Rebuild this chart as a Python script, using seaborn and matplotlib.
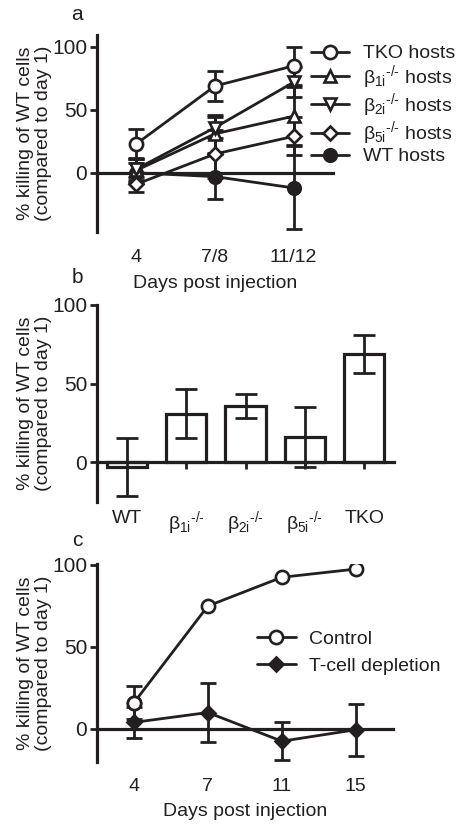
import matplotlib
matplotlib.use('Agg')
import matplotlib.pyplot as plt
import seaborn as sns
import numpy as np

# panel a: killing over time in different hosts
days_a = ['4', '7/8', '11/12']
tko_a = [23, 69, 85]
tko_a_err = [12, 12, 15]
b1i_a = [2, 31, 45]
b1i_a_err = [9, 15, 23]
b2i_a = [3, 36, 72]
b2i_a_err = [9, 8, 12]
b5i_a = [-9, 15, 29]
b5i_a_err = [6, 19, 15]
wt_a = [0, -3, -12]
wt_a_err = [8, 18, 33]

# panel b: day 7/8 per host
groups_b = ['WT', r'$\beta_{1i}$$^{\text{-/-}}$', r'$\beta_{2i}$$^{\text{-/-}}$',
            r'$\beta_{5i}$$^{\text{-/-}}$', 'TKO']
vals_b = [-3, 31, 36, 16, 69]
err_b = [18.5, 15.5, 7.5, 19, 12]

# panel c: T-cell depletion
days_c = ['4', '7', '11', '15']
control_c = [16, 75, 92.5, 97.5]
control_c_err = [10, 0, 0, 0]
tdep_c = [4, 10, -7.5, -0.5]
tdep_c_err = [9.6, 18, 11.5, 15.8]

sns.set_style('white')
plt.rcParams['font.family'] = ['Liberation Sans', 'DejaVu Sans']
plt.rcParams['mathtext.fontset'] = 'custom'
plt.rcParams['mathtext.rm'] = 'Liberation Sans'
plt.rcParams['mathtext.it'] = 'Liberation Sans'
plt.rcParams['mathtext.bf'] = 'Liberation Sans:bold'

INK = '#231f20'
FS = 14
LW = 2.0
YLAB = '% killing of WT cells\n(compared to day 1)'

W, H = 460, 827
fig = plt.figure(figsize=(W / 100, H / 100), dpi=100)


def box(left, top, right, bottom):
    # pixel box -> figure fraction
    return [left / W, 1 - bottom / H, (right - left) / W, (bottom - top) / H]


def style_axis(ax, ylim, xlim, xpad, xtick_len=0):
    ax.set_ylim(*ylim)
    ax.set_xlim(*xlim)
    ax.set_yticks([0, 50, 100])
    for s in ['top', 'right']:
        ax.spines[s].set_visible(False)
    ax.spines['left'].set_linewidth(2.3)
    ax.spines['left'].set_color(INK)
    ax.spines['bottom'].set_position(('data', 0))
    ax.spines['bottom'].set_linewidth(2.3)
    ax.spines['bottom'].set_color(INK)
    ax.tick_params(axis='y', direction='out', length=5, width=2, color=INK,
                   labelsize=15, pad=2, left=True, labelcolor=INK)
    ax.tick_params(axis='x', direction='out', length=xtick_len, width=2, color=INK,
                   labelsize=FS, pad=xpad, bottom=True, labelcolor=INK)
    ax.set_ylabel(YLAB, fontsize=FS, color=INK, labelpad=0, linespacing=1.1)
    ax.set_facecolor('white')


def draw_series(ax, x, y, err, marker, face, label, ms=9.5, cap=5.5):
    ax.errorbar(x, y, yerr=err, fmt='none', ecolor=INK, elinewidth=LW,
                capsize=cap, capthick=LW, zorder=2)
    sns.lineplot(x=x, y=y, ax=ax, color=INK, lw=LW, marker=marker, markersize=ms,
                 markerfacecolor=face, markeredgecolor=INK, markeredgewidth=1.9,
                 label=label, zorder=3)


# ---- panel a
ax_a = fig.add_axes(box(97, 35, 333, 232))
xa = np.arange(len(days_a))
draw_series(ax_a, xa, wt_a, wt_a_err, 'o', INK, 'WT hosts', ms=9)
draw_series(ax_a, xa, b5i_a, b5i_a_err, 'D', 'white', r'$\beta_{5i}$$^{\text{-/-}}$ hosts', ms=7.5)
draw_series(ax_a, xa, b1i_a, b1i_a_err, '^', 'white', r'$\beta_{1i}$$^{\text{-/-}}$ hosts', ms=9)
draw_series(ax_a, xa, b2i_a, b2i_a_err, 'v', 'white', r'$\beta_{2i}$$^{\text{-/-}}$ hosts', ms=9)
draw_series(ax_a, xa, tko_a, tko_a_err, 'o', 'white', 'TKO hosts')
style_axis(ax_a, (-47, 109.5), (-0.5, 2.5), xpad=55)
ax_a.set_xticks(xa, days_a)
ax_a.set_xlabel('Days post injection', fontsize=FS, color=INK, labelpad=6)

h, l = ax_a.get_legend_handles_labels()
order = [4, 2, 3, 1, 0]
ax_a.legend([h[i] for i in order], [l[i] for i in order], loc='upper left',
            bbox_to_anchor=(0.905, 0.95), frameon=False, fontsize=FS,
            handlelength=2.0, handletextpad=0.7, labelspacing=0.02,
            borderpad=0, borderaxespad=0, labelcolor=INK)

# ---- panel b
ax_b = fig.add_axes(box(97, 305, 394, 501.7))
sns.barplot(x=groups_b, y=vals_b, ax=ax_b, color='white', edgecolor=INK,
            linewidth=2.3, width=0.68, saturation=1, errorbar=None, zorder=2)
ax_b.errorbar(np.arange(len(groups_b)), vals_b, yerr=err_b, fmt='none', ecolor=INK,
              elinewidth=LW, capsize=8, capthick=LW, zorder=3)
style_axis(ax_b, (-25, 100), (-0.5, 4.5), xpad=29, xtick_len=5)

# ---- panel c
ax_c = fig.add_axes(box(97, 564, 392.7, 761.7))
xc = np.arange(len(days_c))
draw_series(ax_c, xc, tdep_c, tdep_c_err, 'D', INK, 'T-cell depletion', ms=7.5)
draw_series(ax_c, xc[:1], control_c[:1], control_c_err[:1], 'o', 'white', None)
sns.lineplot(x=xc, y=control_c, ax=ax_c, color=INK, lw=LW, marker='o', markersize=9.5,
             markerfacecolor='white', markeredgecolor=INK, markeredgewidth=1.9,
             label='Control', zorder=3)
style_axis(ax_c, (-20, 100.6), (-0.5, 3.5), xpad=35)
ax_c.set_xticks(xc, days_c)
ax_c.set_xlabel('Days post injection', fontsize=FS, color=INK, labelpad=6)
h, l = ax_c.get_legend_handles_labels()
ax_c.legend(h[::-1], l[::-1], loc='upper left', bbox_to_anchor=(0.54, 0.665),
            frameon=False, fontsize=FS, handlelength=2.0, handletextpad=0.7,
            labelspacing=0.5, borderpad=0, borderaxespad=0, labelcolor=INK)

# panel letters
for letter, y in [('a', 15), ('b', 277), ('c', 540)]:
    fig.text(77 / W, 1 - y / H, letter, fontsize=FS + 1, color=INK, ha='center', va='center')

fig.savefig('out.png', dpi=100, facecolor='white')
